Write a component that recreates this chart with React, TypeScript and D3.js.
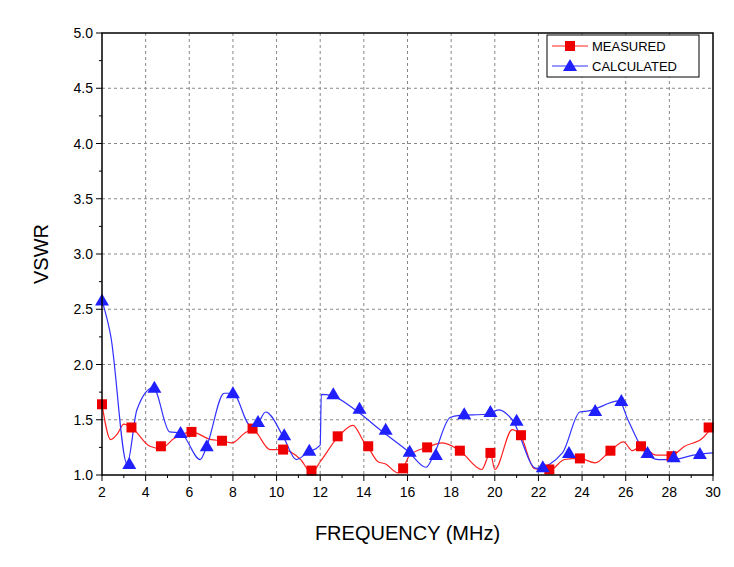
import React from "react";
import * as d3 from "d3";

// measured curve (red)
const measX = [2, 2.4, 2.7, 3, 3.35, 4.2, 4.7, 5.3, 6.1, 7, 7.5, 7.95, 8.55, 8.9, 9.7, 10.3, 11.1, 11.6, 12, 12.8, 13.5, 14, 14.2, 14.65, 15, 15.55, 15.8, 16.1, 16.9, 17.6, 18.4, 19.4, 19.8, 20, 20.8, 21.2, 21.8, 22.5, 23.2, 23.9, 24.6, 25.3, 25.9, 26.3, 26.7, 27.4, 28.1, 28.7, 29.5, 30];
const measY = [1.64, 1.32, 1.37, 1.46, 1.43, 1.26, 1.24, 1.33, 1.39, 1.32, 1.31, 1.29, 1.38, 1.41, 1.23, 1.23, 1.14, 1.02, 1.12, 1.34, 1.45, 1.3, 1.25, 1.12, 1.1, 1.02, 1.06, 1.18, 1.25, 1.29, 1.22, 1.05, 1.2, 1.05, 1.41, 1.35, 1.06, 1.04, 1.14, 1.15, 1.11, 1.22, 1.3, 1.22, 1.26, 1.18, 1.18, 1.26, 1.33, 1.45];
const measMarkX = [2, 3.35, 4.7, 6.1, 7.5, 8.9, 10.3, 11.6, 12.8, 14.2, 15.8, 16.9, 18.4, 19.8, 21.2, 22.5, 23.9, 25.3, 26.7, 28.1, 29.8];
const measMarkY = [1.64, 1.43, 1.26, 1.39, 1.31, 1.42, 1.23, 1.04, 1.35, 1.26, 1.06, 1.25, 1.22, 1.2, 1.36, 1.05, 1.15, 1.22, 1.26, 1.17, 1.43];

// calculated curve (blue)
const calcX = [2, 2.4, 3.15, 3.6, 4.35, 5.1, 5.6, 6.5, 6.8, 7.6, 8, 8.8, 9.1, 9.5, 10.3, 10.9, 11.4, 12, 12.05, 12.5, 13.6, 14.8, 16.05, 16.85, 17.2, 17.95, 18.4, 19.6, 20.2, 20.8, 21.9, 23.1, 23.9, 24.3, 25.7, 26.1, 26.9, 27.5, 28.2, 29.1, 30];
const calcY = [2.58, 2.26, 1.1, 1.59, 1.79, 1.39, 1.38, 1.14, 1.26, 1.74, 1.74, 1.45, 1.46, 1.57, 1.35, 1.14, 1.2, 1.27, 1.73, 1.72, 1.59, 1.4, 1.21, 1.07, 1.18, 1.52, 1.54, 1.55, 1.59, 1.5, 1.06, 1.2, 1.57, 1.58, 1.67, 1.5, 1.2, 1.14, 1.14, 1.18, 1.2];
const calcMarkX = [2, 3.25, 4.4, 5.6, 6.8, 8, 9.15, 10.35, 11.5, 12.6, 13.8, 15, 16.1, 17.3, 18.6, 19.8, 21, 22.2, 23.4, 24.6, 25.8, 27, 28.2, 29.4];
const calcMarkY = [2.58, 1.1, 1.79, 1.38, 1.26, 1.74, 1.48, 1.36, 1.22, 1.73, 1.6, 1.41, 1.21, 1.18, 1.55, 1.57, 1.49, 1.07, 1.2, 1.58, 1.67, 1.2, 1.16, 1.19];

const xTicks = [2, 4, 6, 8, 10, 12, 14, 16, 18, 20, 22, 24, 26, 28, 30];
const yTicks = [1.0, 1.5, 2.0, 2.5, 3.0, 3.5, 4.0, 4.5, 5.0];

const W = 734, H = 567;
const left = 102, right = 713, top = 33, bottom = 475;

export default function App() {
  const x = d3.scaleLinear().domain([2, 30]).range([left, right]);
  const y = d3.scaleLinear().domain([1, 5]).range([bottom, top]);
  const line = d3.line<number>().x(d => x(measX[d])).y(d => y(measY[d])).curve(d3.curveMonotoneX);
  const lineC = d3.line<number>().x(d => x(calcX[d])).y(d => y(calcY[d])).curve(d3.curveMonotoneX);
  const minorX = d3.range(2, 30.01, 1);
  const minorY = d3.range(1, 5.01, 0.25);
  const font = "'Liberation Sans', Arial, sans-serif";
  const tri = (cx: number, cy: number) => `M${cx},${cy - 7}L${cx + 7},${cy + 5}L${cx - 7},${cy + 5}Z`;

  return (
    <svg width={W} height={H} style={{position: "absolute", left: 0, top: 0}} fontFamily={font}>
      <rect width={W} height={H} fill="white" />
      {xTicks.slice(1, -1).map(t => (
        <line key={"gx" + t} x1={x(t)} x2={x(t)} y1={top} y2={bottom} stroke="#888" strokeDasharray="3,3" />
      ))}
      {yTicks.slice(1, -1).map(t => (
        <line key={"gy" + t} x1={left} x2={right} y1={y(t)} y2={y(t)} stroke="#888" strokeDasharray="3,3" />
      ))}
      <path d={line(measX.map((_, i) => i)) || ""} fill="none" stroke="#ff2020" strokeWidth={1.2} />
      <path d={lineC(calcX.map((_, i) => i)) || ""} fill="none" stroke="#3030ff" strokeWidth={1.2} />
      {measMarkX.map((v, i) => (
        <rect key={"m" + i} x={x(v) - 5} y={y(measMarkY[i]) - 5} width={10} height={10} fill="#ee0000" />
      ))}
      {calcMarkX.map((v, i) => (
        <path key={"c" + i} d={tri(x(v), y(calcMarkY[i]))} fill="#2020ff" />
      ))}
      <rect x={left} y={top} width={right - left} height={bottom - top} fill="none" stroke="black" strokeWidth={1.5} />
      {minorX.map(t => (
        <line key={"tx" + t} x1={x(t)} x2={x(t)} y1={bottom} y2={bottom + (t % 2 === 0 ? 6 : 3)} stroke="black" />
      ))}
      {minorY.map(t => (
        <line key={"ty" + t} x1={left} x2={left - (Math.abs(t * 2 - Math.round(t * 2)) < 0.01 ? 6 : 3)} y1={y(t)} y2={y(t)} stroke="black" />
      ))}
      {xTicks.map(t => (
        <text key={"lx" + t} x={x(t)} y={bottom + 22} fontSize={14} textAnchor="middle">{t}</text>
      ))}
      {yTicks.map(t => (
        <text key={"ly" + t} x={left - 9} y={y(t) + 5} fontSize={14} textAnchor="end">{t.toFixed(1)}</text>
      ))}
      <text x={(left + right) / 2} y={bottom + 65} fontSize={20} textAnchor="middle">FREQUENCY (MHz)</text>
      <text transform={`translate(48,${(top + bottom) / 2}) rotate(-90)`} fontSize={20} textAnchor="middle">VSWR</text>
      <rect x={547} y={35} width={152} height={42} fill="white" stroke="black" />
      <line x1={552} x2={588} y1={46} y2={46} stroke="#ff2020" />
      <rect x={565} y={41} width={10} height={10} fill="#ee0000" />
      <text x={592} y={51} fontSize={13}>MEASURED</text>
      <line x1={552} x2={588} y1={66} y2={66} stroke="#3030ff" />
      <path d={tri(570, 66)} fill="#2020ff" />
      <text x={592} y={71} fontSize={13}>CALCULATED</text>
    </svg>
  );
}
